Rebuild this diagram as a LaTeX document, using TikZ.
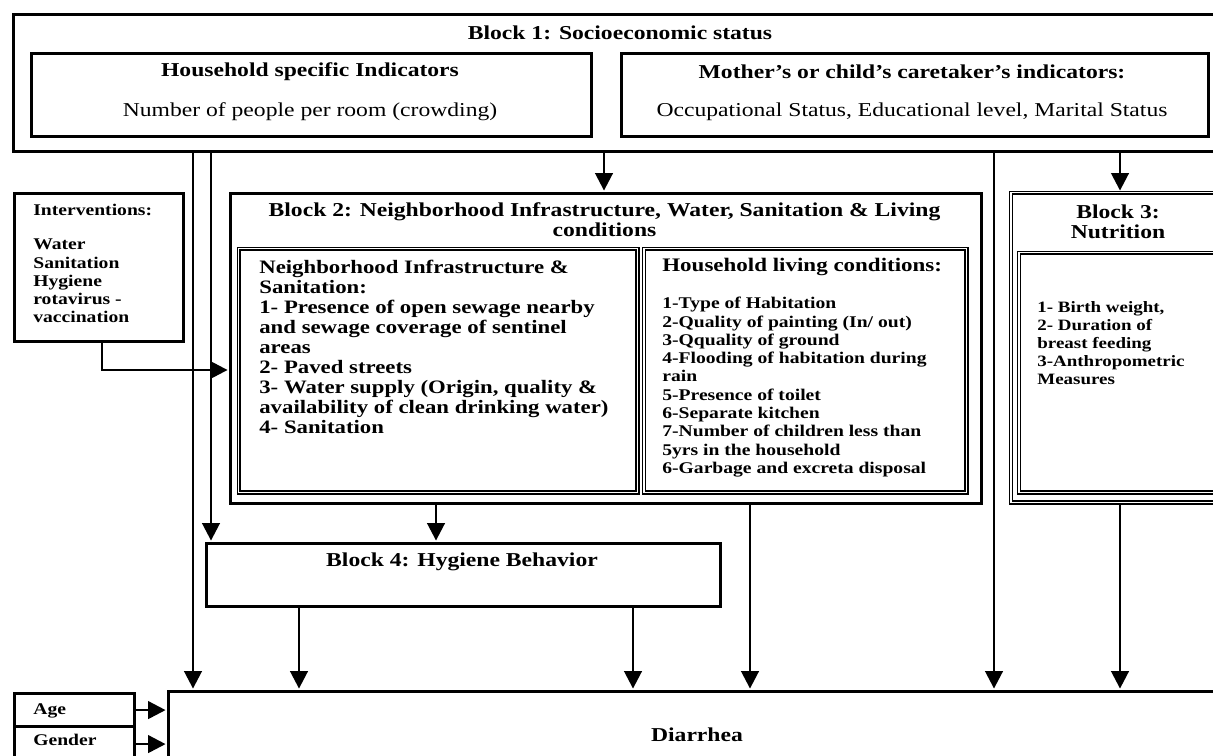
\documentclass[tikz,border=0pt]{standalone}
\usepackage{fontspec}
\setmainfont{Liberation Serif}[FakeStretch=1.2]
\usetikzlibrary{arrows.meta}

\begin{document}
\begin{tikzpicture}[
    x=0.02cm, y=-0.02cm,
    box/.style={draw, line width=1.8pt, anchor=north west, inner sep=0pt},
    dblbox/.style={draw, line width=0.9pt, double, double distance=0.8pt,
        anchor=north west, inner sep=0pt},
    ttl/.style={font=\bfseries\fontsize{11.2}{11.4}\selectfont, align=center, inner sep=0pt},
    sub/.style={font=\fontsize{11.2}{11.4}\selectfont, inner sep=0pt},
    lst/.style={font=\bfseries\fontsize{9.3}{10.4}\selectfont, align=left,
        anchor=north west, inner sep=0pt},
    lstbig/.style={font=\bfseries\fontsize{10.8}{11.4}\selectfont, align=left,
        anchor=north west, inner sep=0pt},
    arr/.style={-{Triangle[width=10pt,length=10pt]}, line width=1.5pt, shorten >=0.8pt},
]

\useasboundingbox (0,0) rectangle (1213,756);
\fill[white] (0,0) rectangle (1213,756);
\clip (0,0) rectangle (1213,756);

% ════════════════════════════════════════
% Block 1: socioeconomic status
% ════════════════════════════════════════
\node[box, minimum width=24.56cm, minimum height=2.74cm] (b1) at (12,13) {};
\node[ttl] (b1ttl) at (620,33) {Block 1: Socioeconomic status};

\node[box, minimum width=11.2cm, minimum height=1.66cm] (hh) at (30,52) {};
\node[ttl] (hhttl) at (310,72) {Household specific Indicators};
\node[sub] (hhsub) at (310,112) {Number of people per room (crowding)};

\node[box, minimum width=11.74cm, minimum height=1.66cm] (mo) at (620,52) {};
\node[ttl] (mottl) at (912,72) {Mother’s or child’s caretaker’s indicators:};
\node[sub] (mosub) at (912,112) {Occupational Status, Educational level, Marital Status};

% ════════════════════════════════════════
% Interventions
% ════════════════════════════════════════
\node[box, minimum width=3.38cm, minimum height=2.96cm] (int) at (13,192) {};
\node[lst] (inttxt) at (33,204) {Interventions:\\[9pt]Water\\Sanitation\\Hygiene\\rotavirus -\\vaccination};

% ════════════════════════════════════════
% Block 2: neighborhood, water, sanitation
% ════════════════════════════════════════
\node[box, minimum width=15.02cm, minimum height=6.2cm] (b2) at (229,192) {};
\node[ttl] (b2ttl) at (604.5,220) {Block 2: Neighborhood Infrastructure, Water, Sanitation \& Living\\conditions};

\node[dblbox, minimum width=7.98cm, minimum height=4.88cm] (nb) at (238,248) {};
\node[lstbig] (nbtxt) at (259,260) {Neighborhood Infrastructure \&\\Sanitation:\\1- Presence of open sewage nearby\\and sewage coverage of sentinel\\areas\\2- Paved streets\\3- Water supply (Origin, quality \&\\availability of clean drinking water)\\4- Sanitation};

\node[dblbox, minimum width=6.46cm, minimum height=4.88cm] (hl) at (643,248) {};
\node[lstbig, font=\bfseries\fontsize{10.9}{11.4}\selectfont] (hlttl) at (662,258) {Household living conditions:};
\node[lst] (hltxt) at (662,297) {1-Type of Habitation\\2-Quality of painting (In/ out)\\3-Qquality of ground\\4-Flooding of habitation during\\rain\\5-Presence of toilet\\6-Separate kitchen\\7-Number of children less than\\5yrs in the household\\6-Garbage and excreta disposal};

% ════════════════════════════════════════
% Block 3: nutrition
% ════════════════════════════════════════
\node[dblbox, minimum width=4.6cm, minimum height=6.2cm] (b3) at (1010,192) {};
\node[ttl] (b3ttl) at (1118,222) {Block 3:\\Nutrition};
\node[dblbox, minimum width=4.34cm, minimum height=4.8cm] (b3in) at (1018,252) {};
\node[lst, font=\bfseries\fontsize{9}{10.2}\selectfont] (b3txt) at (1037,301) {1- Birth weight,\\2- Duration of\\breast feeding\\3-Anthropometric\\Measures};

% ════════════════════════════════════════
% Block 4: hygiene behavior
% ════════════════════════════════════════
\node[box, minimum width=10.28cm, minimum height=1.26cm] (b4) at (205,542) {};
\node[ttl] (b4ttl) at (462,562) {Block 4: Hygiene Behavior};

% ════════════════════════════════════════
% Outcome and covariates
% ════════════════════════════════════════
\node[box, minimum width=21.14cm, minimum height=1.72cm, font=\bfseries\fontsize{11.2}{11.4}\selectfont] (di) at (167,690) {Diarrhea};
\node[box, minimum width=2.4cm, minimum height=0.66cm] (age) at (13,692) {};
\node[box, minimum width=2.4cm, minimum height=0.7cm] (gen) at (13,725) {};
\node[lst] (agetxt) at (33,703) {Age};
\node[lst] (gentxt) at (33,734) {Gender};

% ════════════════════════════════════════
% Connectors
% ════════════════════════════════════════
\coordinate (xa) at (193,0);
\coordinate (xb) at (211,0);
\coordinate (xc) at (604,0);
\coordinate (xd) at (994,0);
\coordinate (xe) at (1120,0);
\coordinate (xf) at (436,0);
\coordinate (xg) at (750,0);
\coordinate (xh) at (299,0);
\coordinate (xi) at (633,0);
\coordinate (xj) at (102,0);
\coordinate (yj) at (0,370);

% Block 1 → everything below
\draw[arr] (b1.south -| xa) -- (di.north -| xa);
\draw[arr] (b1.south -| xb) -- (b4.north -| xb);
\draw[arr] (b1.south -| xc) -- (b2.north -| xc);
\draw[arr] (b1.south -| xd) -- (di.north -| xd);
\draw[arr] (b1.south -| xe) -- (b3.north -| xe);

% Interventions → Block 2
\draw[arr] (int.south -| xj) |- (b2.west |- yj);

% Block 2 / Block 3 / Block 4 → Diarrhea
\draw[arr] (b2.south -| xf) -- (b4.north -| xf);
\draw[arr] (b2.south -| xg) -- (di.north -| xg);
\draw[arr] (b4.south -| xh) -- (di.north -| xh);
\draw[arr] (b4.south -| xi) -- (di.north -| xi);
\draw[arr] (b3.south -| xe) -- (di.north -| xe);

% covariates
\draw[arr] (age.east) -- (age.east -| di.west);
\draw[arr] (gen.east) -- (gen.east -| di.west);

\end{tikzpicture}
\end{document}
